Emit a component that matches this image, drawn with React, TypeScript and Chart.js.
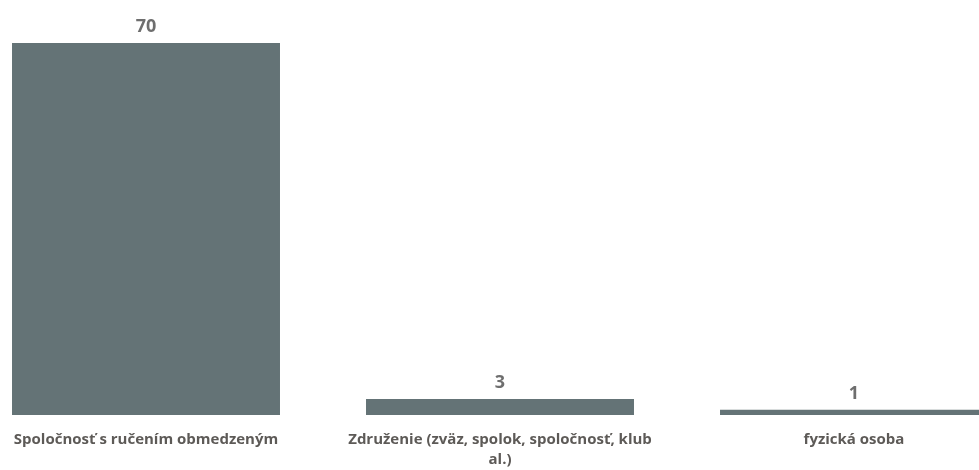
import React, { useEffect, useRef } from "react";
import { Chart, registerables } from "chart.js";

Chart.register(...registerables);

const categories: (string | string[])[] = [
  "Spoločnosť s ručením obmedzeným",
  ["Združenie (zväz, spolok, spoločnosť, klub", "al.)"],
  "fyzická osoba",
];
const counts = [70, 3, 1];
const valueLabels = ["70", "3", "1"];

const valueLabelPlugin = {
  id: "valueLabels",
  afterDatasetsDraw(chart: any) {
    const ctx = chart.ctx;
    const meta = chart.getDatasetMeta(0);
    ctx.save();
    ctx.font = "bold 18px 'Open Sans', sans-serif";
    ctx.fillStyle = "#6e6e6e";
    ctx.textAlign = "center";
    ctx.textBaseline = "alphabetic";
    meta.data.forEach((bar: any, i: number) => {
      ctx.fillText(valueLabels[i], bar.x, bar.y - 11);
    });
    ctx.restore();
  },
};

export default function App() {
  const ref = useRef<HTMLCanvasElement | null>(null);
  useEffect(() => {
    if (!ref.current) return;
    const chart = new Chart(ref.current, {
      type: "bar",
      data: {
        labels: categories,
        datasets: [
          {
            data: counts,
            backgroundColor: "#647376",
            borderWidth: 0,
            barPercentage: 0.757,
            categoryPercentage: 1,
          },
        ],
      },
      options: {
        responsive: false,
        animation: false,
        layout: { padding: { top: 43, bottom: -15, left: 0, right: 0 } },
        plugins: { legend: { display: false }, tooltip: { enabled: false } },
        scales: {
          x: {
            grid: { display: false, drawTicks: false },
            border: { display: false },
            ticks: {
              autoSkip: false,
              maxRotation: 0,
              padding: 15,
              color: "#5d5a57",
              font: { family: "'Open Sans', sans-serif", size: 15, weight: "bold", lineHeight: 1.333 },
            },
          },
          y: {
            display: false,
            min: 0,
            max: 70,
          },
        },
      },
      plugins: [valueLabelPlugin],
    });
    return () => chart.destroy();
  }, []);
  return (
    <div style={{ position: "fixed", left: 0, top: 0, width: 979, height: 470, overflow: "hidden", background: "#fff" }}>
      <canvas ref={ref} width={1062} height={470} style={{ position: "absolute", left: -31, top: 0 }} />
    </div>
  );
}
